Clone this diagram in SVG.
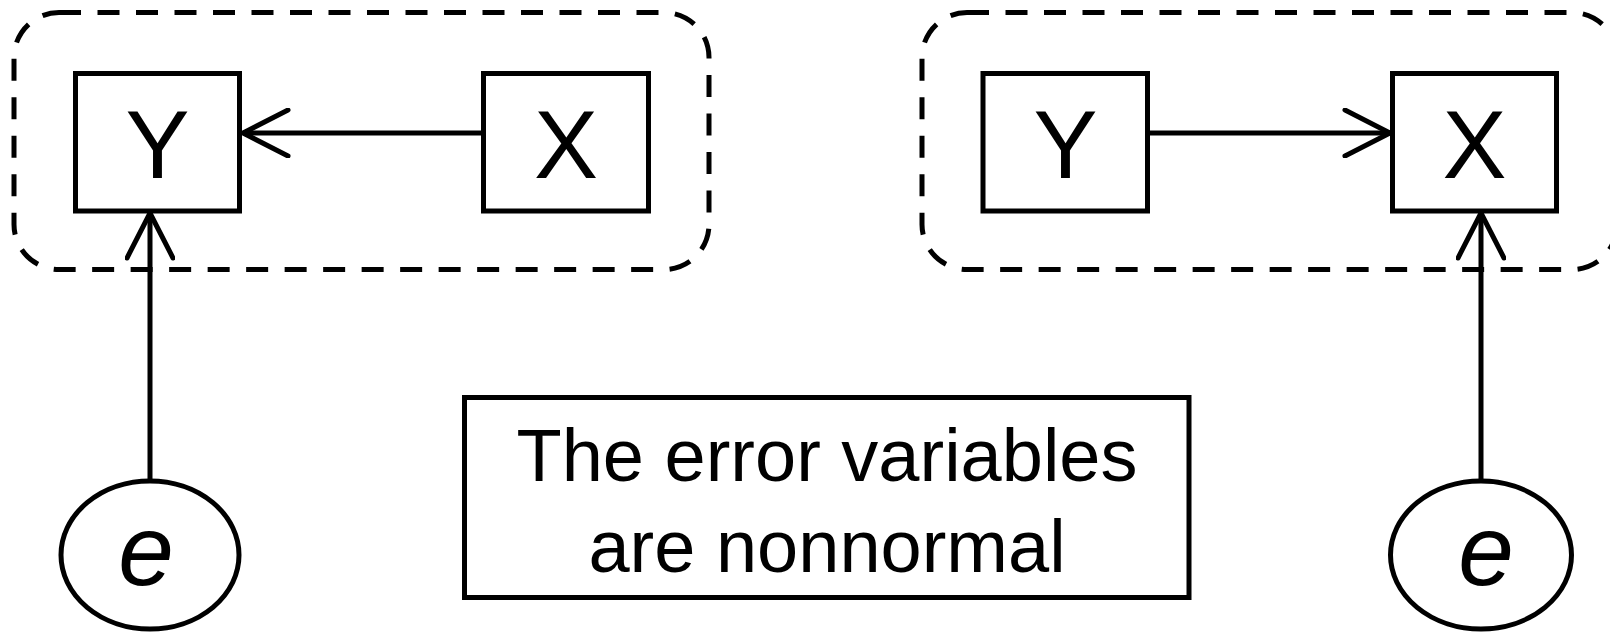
<svg xmlns="http://www.w3.org/2000/svg" width="1610" height="635" viewBox="0 0 1610 635">
<defs>
<style>
.grp{fill:none;stroke:#000;stroke-width:5;stroke-dasharray:22 16.5}
.box{fill:#fff;stroke:#000;stroke-width:5}
.ell{fill:#fff;stroke:#000;stroke-width:5}
.lbl{font-family:"Liberation Sans",Arial,sans-serif;font-size:96px;text-anchor:middle;fill:#000}
.err{font-family:"Liberation Sans",Arial,sans-serif;font-size:100px;font-style:italic;text-anchor:middle;fill:#000}
.note{font-family:"Liberation Sans",Arial,sans-serif;font-size:74px;text-anchor:middle;fill:#000}
.edge{fill:none;stroke:#000;stroke-width:5}
</style>
<marker id="arr" viewBox="0 0 50 50" refX="48" refY="25" markerWidth="50" markerHeight="50" markerUnits="userSpaceOnUse" orient="auto">
<path d="M3,2 L48,25 L3,48" fill="none" stroke="#000" stroke-width="5" stroke-linecap="round"/>
</marker>
</defs>
<g id="group-left"><rect class="grp" x="14" y="12.5" width="695" height="257" rx="45"/></g>
<g id="group-right"><rect class="grp" x="922" y="12.5" width="695" height="257" rx="45"/></g>
<g id="connectors">
<line class="edge" x1="483" y1="133" x2="243" y2="133" marker-end="url(#arr)"/>
<line class="edge" x1="1147" y1="133" x2="1390" y2="133" marker-end="url(#arr)"/>
<line class="edge" x1="150" y1="481" x2="150" y2="213" marker-end="url(#arr)"/>
<line class="edge" x1="1481" y1="481" x2="1481" y2="213" marker-end="url(#arr)"/>
</g>
<g id="node-y-left"><rect class="box" x="75.5" y="73.5" width="164" height="137.5"/><text class="lbl" x="157.5" y="178">Y</text></g>
<g id="node-x-left"><rect class="box" x="483.5" y="73.5" width="165" height="137.5"/><text class="lbl" x="566" y="178">X</text></g>
<g id="node-y-right"><rect class="box" x="983" y="73.5" width="164.5" height="137.5"/><text class="lbl" x="1065.5" y="178">Y</text></g>
<g id="node-x-right"><rect class="box" x="1392.5" y="73.5" width="164" height="137.5"/><text class="lbl" x="1474.5" y="178">X</text></g>
<g id="node-e-left"><ellipse class="ell" cx="150" cy="555" rx="89" ry="74"/><text class="err" x="146" y="585">e</text></g>
<g id="node-e-right"><ellipse class="ell" cx="1481" cy="555" rx="90.5" ry="74"/><text class="err" x="1486" y="585">e</text></g>
<g id="node-note"><rect class="box" x="464.5" y="397.5" width="724.5" height="200"/><text class="note" x="827" y="481">The error variables</text><text class="note" x="827" y="572">are nonnormal</text></g>
</svg>
